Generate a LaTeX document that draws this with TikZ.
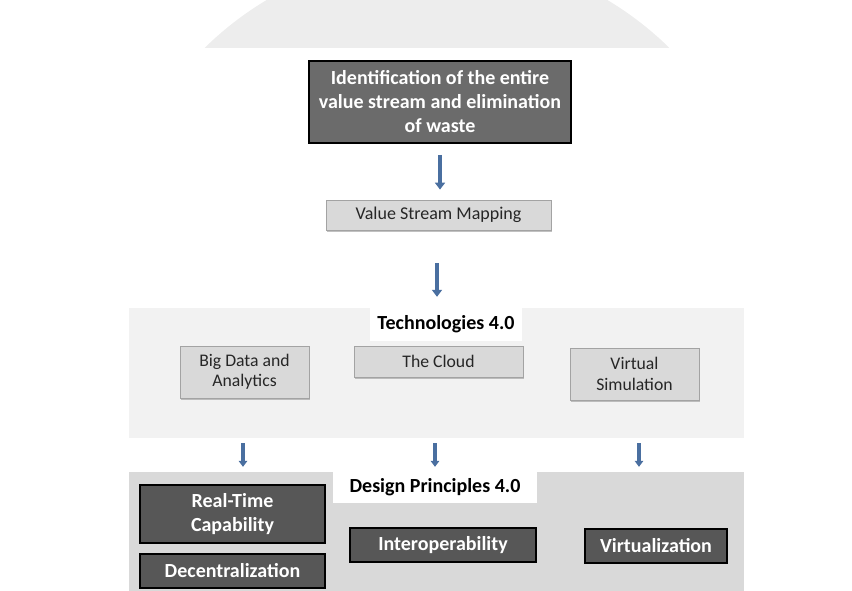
\documentclass[tikz,border=0pt]{standalone}
\usepackage{fontspec}
\setmainfont{Carlito}
\usetikzlibrary{arrows.meta,shadows}

\definecolor{darkbox}{HTML}{575757}
\definecolor{topbox}{HTML}{6B6B6B}
\definecolor{lightbox}{HTML}{D9D9D9}
\definecolor{lightedge}{HTML}{A3A3A3}
\definecolor{techpanel}{HTML}{F2F2F2}
\definecolor{designpanel}{HTML}{D9D9D9}
\definecolor{arrowblue}{HTML}{4A6FA0}
\definecolor{seal}{HTML}{EDEDED}

\begin{document}
\begin{tikzpicture}[x=1pt,y=-1pt,
  box/.style={rectangle, inner sep=0pt, align=center},
  darkstep/.style={box, fill=darkbox, draw=black, line width=1.8pt, text=white,
    font=\fontsize{20}{24}\selectfont\bfseries},
  lightstep/.style={box, fill=lightbox, draw=lightedge, line width=0.8pt,
    drop shadow={shadow xshift=1pt, shadow yshift=-2pt, fill=black!40, opacity=0.6},
    text=black!85, font=\fontsize{17.7}{20.5}\selectfont},
  panel/.style={box, minimum width=615pt},
  heading/.style={box, fill=white, text=black, font=\fontsize{20}{22}\selectfont\bfseries},
  flow/.style={draw=arrowblue, line width=4pt, -{Triangle[width=10pt,length=7pt]}},
  subflow/.style={draw=arrowblue, line width=3.2pt, -{Triangle[width=8.5pt,length=6pt]},
    shorten <=5pt, shorten >=5pt}
]
\useasboundingbox (0,0) rectangle (852,590);
\clip (0,0) rectangle (852,590);

% faint seal behind the sheet
\fill[seal] (437,285) circle[radius=332];
\fill[white] (64,48) rectangle (801,590);

% goal and value stream mapping
\node[box, fill=topbox, draw=black, line width=1.8pt, text=white,
  font=\fontsize{20}{24}\selectfont\bfseries,
  minimum width=262pt, minimum height=82pt] (goal) at (440,102)
  {Identification of the entire\\value stream and elimination\\of waste};
\node[lightstep, font=\fontsize{18}{20}\selectfont,
  minimum width=225pt, minimum height=30pt] (vsm) at (438.5,215) {Value Stream Mapping};

% technologies panel
\node[panel, fill=techpanel, minimum height=130pt] (tech) at (436,373) {};
\node[heading, minimum width=152pt, minimum height=33pt] (techlabel) at (446,324.5) {Technologies 4.0};
\node[lightstep, minimum width=129pt, minimum height=52pt] (bigdata) at (244.5,372) {Big Data and\\Analytics};
\node[lightstep, minimum width=169pt, minimum height=31pt] (cloud) at (438.5,361.5) {The Cloud};
\node[lightstep, minimum width=129pt, minimum height=52pt] (virtsim) at (634.5,374) {Virtual\\Simulation};

% design principles panel
\node[panel, fill=designpanel, minimum height=120pt] (design) at (436,532) {};
\node[heading, minimum width=204pt, minimum height=31pt] (designlabel) at (435,487.5) {Design Principles 4.0};
\node[darkstep, minimum width=185pt, minimum height=58pt] (realtime) at (232.5,514) {Real-Time\\Capability};
\node[darkstep, minimum width=185pt, minimum height=34pt] (decentral) at (232.5,571) {Decentralization};
\node[darkstep, minimum width=186pt, minimum height=34pt] (interop) at (443,545) {Interoperability};
\node[darkstep, minimum width=142pt, minimum height=34pt] (virtual) at (656,546) {Virtualization};

% connectors
\draw[flow, shorten <=11pt, shorten >=10pt] (goal.south) -- (goal.south |- vsm.north);
\draw[flow, shorten <=33pt, shorten >=11pt] ([xshift=-1.5pt]vsm.south) -- ([xshift=-1.5pt]vsm.south |- tech.north);
\draw[subflow] ([xshift=-1.5pt]bigdata.south |- tech.south) -- ([xshift=-1.5pt]bigdata.south |- design.north);
\draw[subflow] ([xshift=-3.5pt]cloud.south |- tech.south) -- ([xshift=-3.5pt]cloud.south |- design.north);
\draw[subflow] ([xshift=4.5pt]virtsim.south |- tech.south) -- ([xshift=4.5pt]virtsim.south |- design.north);
\end{tikzpicture}
\end{document}
